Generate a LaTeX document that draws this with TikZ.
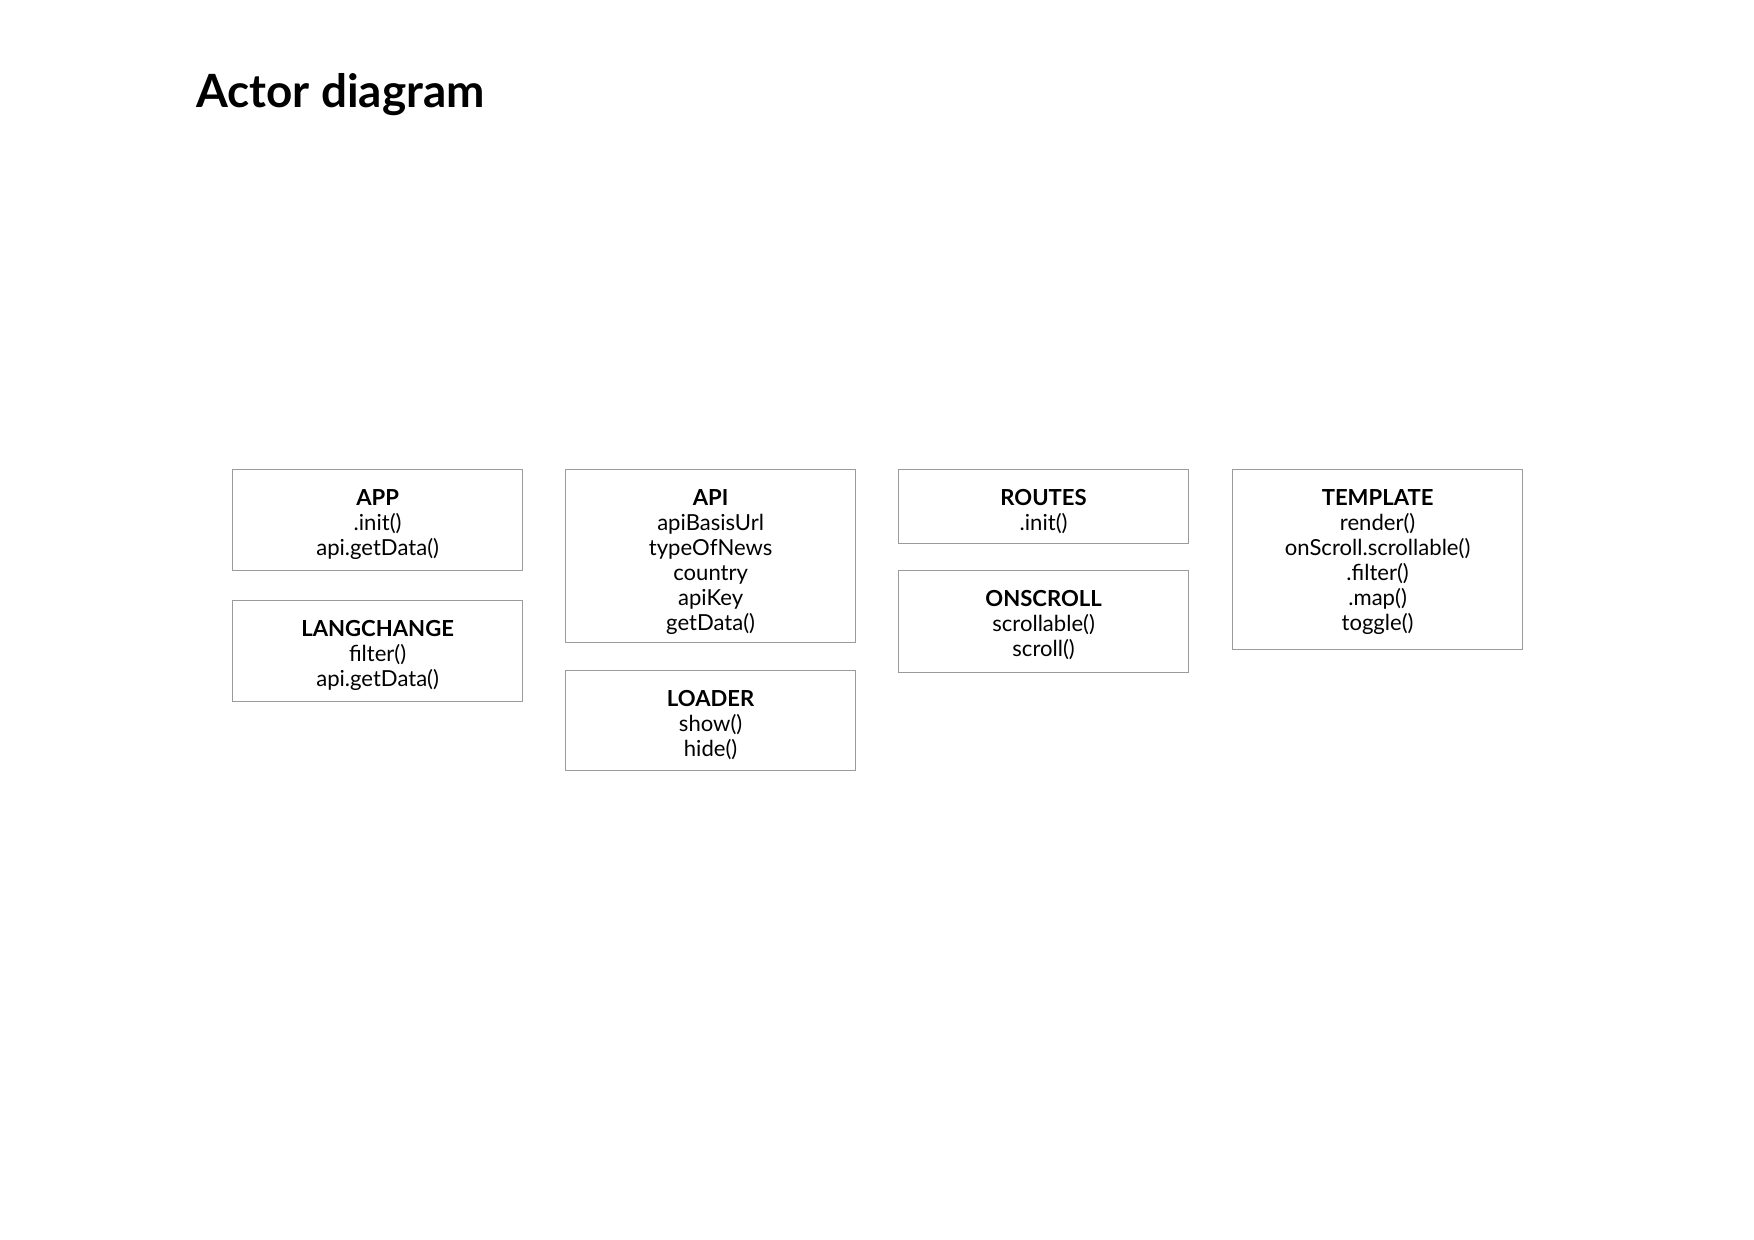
\documentclass[tikz,border=0pt]{standalone}
\usepackage{fontspec}
\setmainfont{Lato}
\definecolor{boxgray}{RGB}{155,155,155}
\tikzset{
  actor/.style={draw=boxgray, line width=0.6pt, anchor=north west,
    minimum width=139.2pt, inner sep=0pt},
  lbl/.style={anchor=north, align=center, inner sep=0pt,
    font=\fontsize{10.6}{12}\selectfont},
  title/.style={anchor=base west, inner sep=0pt, font=\fontsize{22}{26}\selectfont\bfseries}
}
\begin{document}
\begin{tikzpicture}[x=0.48pt,y=-0.48pt]
\useasboundingbox (0,0) rectangle (1754,1240);
\node[title] (title) at (196,108) {Actor diagram};
\node[actor, minimum height=48.5pt] (app) at (232,469) {};
\node[actor, minimum height=48.5pt] (lang) at (232,600) {};
\node[actor, minimum height=83pt] (api) at (565,469) {};
\node[actor, minimum height=48pt] (loader) at (565,670) {};
\node[actor, minimum height=35.5pt] (routes) at (898,469) {};
\node[actor, minimum height=49pt] (onscroll) at (898,570) {};
\node[actor, minimum height=86.2pt] (template) at (1232,469) {};
\node[lbl] (appt) at ([yshift=-9.5pt]app.north)
  {\textbf{APP}\\.init()\\api.getData()};
\node[lbl] (langt) at ([yshift=-9.5pt]lang.north)
  {\textbf{LANGCHANGE}\\filter()\\api.getData()};
\node[lbl] (apit) at ([yshift=-9.5pt]api.north)
  {\textbf{API}\\apiBasisUrl\\typeOfNews\\country\\apiKey\\getData()};
\node[lbl] (loadert) at ([yshift=-9.5pt]loader.north)
  {\textbf{LOADER}\\show()\\hide()};
\node[lbl] (routest) at ([yshift=-9.5pt]routes.north)
  {\textbf{ROUTES}\\.init()};
\node[lbl] (onscrollt) at ([yshift=-9.5pt]onscroll.north)
  {\textbf{ONSCROLL}\\scrollable()\\scroll()};
\node[lbl] (templatet) at ([yshift=-9.5pt]template.north)
  {\textbf{TEMPLATE}\\render()\\onScroll.scrollable()\\.filter()\\.map()\\toggle()};
\end{tikzpicture}
\end{document}
